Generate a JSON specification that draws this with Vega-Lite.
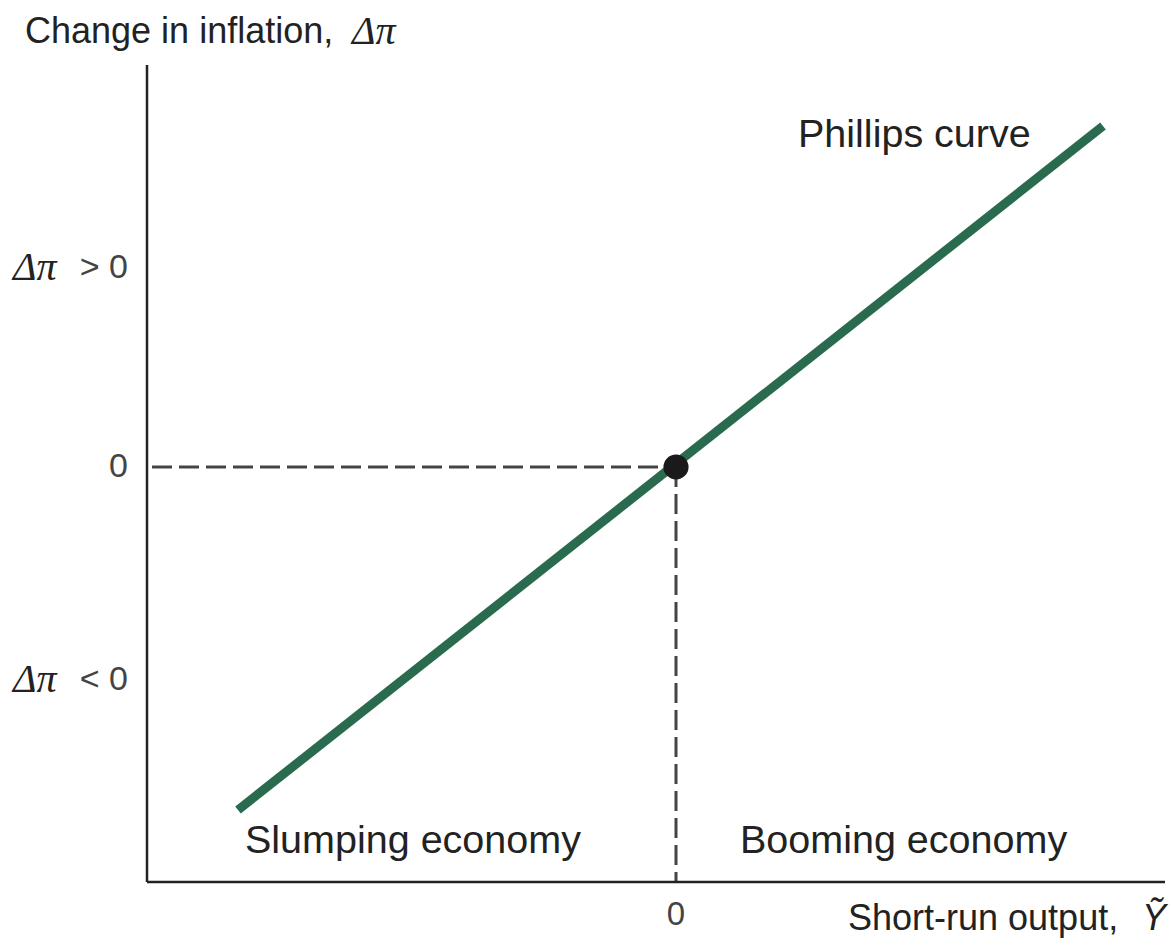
{
  "$schema": "https://vega.github.io/schema/vega-lite/v6.json",
  "width": 1018,
  "height": 817,
  "autosize": {"type": "none"},
  "padding": {"left": 147, "top": 65, "right": 7, "bottom": 66},
  "background": "white",
  "config": {"view": {"stroke": null}},
  "datasets": {
    "curve": [{"x": -438, "y": -343}, {"x": 427, "y": 341}],
    "axes": [{"x": -529, "y": -415, "x2": -529, "y2": 402}, {"x": -529, "y": -415, "x2": 489, "y2": -415}],
    "guides": [{"x": -524, "y": 0, "x2": 0, "y2": 0}, {"x": 0, "y": 0, "x2": 0, "y2": -415}],
    "origin": [{"x": 0, "y": 0}],
    "sansLabels": [
      {"x": 122, "y": 332, "label": "Phillips curve"},
      {"x": -431, "y": -374, "label": "Slumping economy"},
      {"x": 64, "y": -374, "label": "Booming economy"}
    ],
    "titleLabels": [
      {"x": -651, "y": 435, "label": "Change in inflation,"},
      {"x": 172, "y": -452, "label": "Short-run output,"}
    ],
    "tickLabels": [
      {"x": 0, "y": -448, "label": "0"}
    ],
    "yTickLabels": [
      {"x": -548, "y": 0, "label": "0"},
      {"x": -548, "y": 199, "label": "> 0"},
      {"x": -548, "y": -213, "label": "< 0"}
    ],
    "greek": [
      {"x": -663, "y": 199, "label": "Δπ"},
      {"x": -663, "y": -213, "label": "Δπ"},
      {"x": -324, "y": 435, "label": "Δπ"}
    ],
    "ytilde": [{"x": 466, "y": -452, "label": "Ỹ"}]
  },
  "encoding": {
    "x": {"type": "quantitative", "scale": {"domain": [-529, 489]}, "axis": null},
    "y": {"type": "quantitative", "scale": {"domain": [-415, 402]}, "axis": null}
  },
  "layer": [
    {
      "data": {"name": "guides"},
      "mark": {"type": "rule", "color": "#444444", "strokeWidth": 3, "strokeDash": [20, 7]},
      "encoding": {"x": {"field": "x", "type": "quantitative"}, "y": {"field": "y", "type": "quantitative"}, "x2": {"field": "x2"}, "y2": {"field": "y2"}}
    },
    {
      "data": {"name": "axes"},
      "mark": {"type": "rule", "color": "#222222", "strokeWidth": 2.5},
      "encoding": {"x": {"field": "x", "type": "quantitative"}, "y": {"field": "y", "type": "quantitative"}, "x2": {"field": "x2"}, "y2": {"field": "y2"}}
    },
    {
      "data": {"name": "curve"},
      "mark": {"type": "line", "color": "#2a6b50", "strokeWidth": 9, "strokeCap": "butt"},
      "encoding": {"x": {"field": "x", "type": "quantitative"}, "y": {"field": "y", "type": "quantitative"}}
    },
    {
      "data": {"name": "origin"},
      "mark": {"type": "point", "filled": true, "color": "#1a1a1a", "size": 630, "opacity": 1},
      "encoding": {"x": {"field": "x", "type": "quantitative"}, "y": {"field": "y", "type": "quantitative"}}
    },
    {
      "data": {"name": "sansLabels"},
      "mark": {"type": "text", "font": "Liberation Sans", "fontSize": 39.5, "align": "left", "baseline": "middle", "color": "#222222"},
      "encoding": {"x": {"field": "x", "type": "quantitative"}, "y": {"field": "y", "type": "quantitative"}, "text": {"field": "label"}}
    },
    {
      "data": {"name": "titleLabels"},
      "mark": {"type": "text", "font": "Liberation Sans", "fontSize": 36, "align": "left", "baseline": "middle", "color": "#222222"},
      "encoding": {"x": {"field": "x", "type": "quantitative"}, "y": {"field": "y", "type": "quantitative"}, "text": {"field": "label"}}
    },
    {
      "data": {"name": "tickLabels"},
      "mark": {"type": "text", "font": "Liberation Sans", "fontSize": 33, "fontWeight": 300, "align": "center", "baseline": "middle", "color": "#444444"},
      "encoding": {"x": {"field": "x", "type": "quantitative"}, "y": {"field": "y", "type": "quantitative"}, "text": {"field": "label"}}
    },
    {
      "data": {"name": "yTickLabels"},
      "mark": {"type": "text", "font": "Liberation Sans", "fontSize": 34, "fontWeight": 300, "align": "right", "baseline": "middle", "color": "#444444"},
      "encoding": {"x": {"field": "x", "type": "quantitative"}, "y": {"field": "y", "type": "quantitative"}, "text": {"field": "label"}}
    },
    {
      "data": {"name": "greek"},
      "mark": {"type": "text", "font": "Liberation Serif", "fontSize": 40, "fontStyle": "italic", "align": "left", "baseline": "middle", "color": "#222222"},
      "encoding": {"x": {"field": "x", "type": "quantitative"}, "y": {"field": "y", "type": "quantitative"}, "text": {"field": "label"}}
    },
    {
      "data": {"name": "ytilde"},
      "mark": {"type": "text", "font": "Liberation Sans", "fontSize": 36, "fontStyle": "italic", "align": "left", "baseline": "middle", "color": "#222222"},
      "encoding": {"x": {"field": "x", "type": "quantitative"}, "y": {"field": "y", "type": "quantitative"}, "text": {"field": "label"}}
    }
  ]
}
